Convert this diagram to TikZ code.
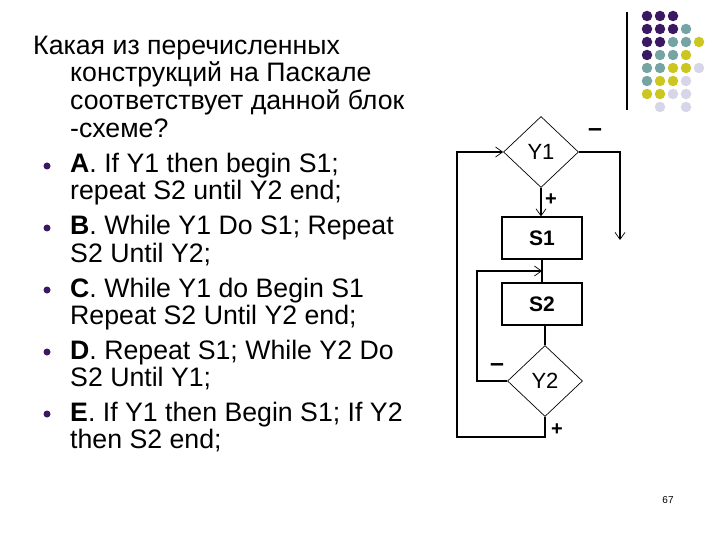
\documentclass[tikz,border=0pt]{standalone}
\usepackage{fontspec}
\setmainfont{Liberation Sans}
\usetikzlibrary{arrows.meta,shapes.geometric,calc}
\definecolor{dpurple}{RGB}{58,24,98}
\definecolor{dteal}{RGB}{118,164,164}
\definecolor{dyellow}{RGB}{204,198,32}
\definecolor{dlight}{RGB}{214,214,232}
\newcommand\qfont{\fontsize{26.7}{28}\selectfont}
\tikzset{
  block/.style={draw, line width=1.2pt, minimum width=80pt, minimum height=42pt, inner sep=0pt, font=\fontsize{21}{21}\selectfont\bfseries},
  cond/.style={draw, diamond, line width=0.7pt, minimum width=75pt, minimum height=71pt, inner sep=0pt, font=\fontsize{22}{22}\selectfont},
  flow/.style={line width=1.4pt},
  arrow/.style={flow, -{Straight Barb[length=7pt,width=10pt,line width=0.7pt]}},
  txtline/.style={anchor=base west, inner sep=0pt, font=\qfont},
  bullet/.style={circle, fill=dpurple, inner sep=0pt, minimum size=7pt},
  sign/.style={font=\fontsize{20}{20}\selectfont\bfseries},
  minus/.style={font=\fontsize{25}{25}\selectfont\bfseries},
  dot/.style={circle, inner sep=0pt, minimum size=10.5pt}
}
\begin{document}
\begin{tikzpicture}[x=1pt, y=-1pt]
\useasboundingbox (0,0) rectangle (720,540);

% question
\node[txtline] (q1) at (33,55) {Какая из перечисленных};
\node[txtline] (q2) at (70,82) {конструкций на Паскале};
\node[txtline] (q3) at (70,110) {соответствует данной блок};
\node[txtline] (q4) at (70,138) {-схеме?};

% answers
\node[bullet] (ba) at (47,166) {};
\node[txtline] (a1) at (70,173) {\textbf{A}. If Y1 then begin S1;};
\node[txtline] (a2) at (70,200) {repeat S2 until Y2 end;};
\node[bullet] (bb) at (47,228) {};
\node[txtline] (b1) at (70,235) {\textbf{B}. While Y1 Do S1; Repeat};
\node[txtline] (b2) at (70,262) {S2 Until Y2;};
\node[bullet] (bc) at (47,290) {};
\node[txtline] (c1) at (70,297) {\textbf{C}. While Y1 do Begin S1};
\node[txtline] (c2) at (70,324) {Repeat S2 Until Y2 end;};
\node[bullet] (bd) at (47,352) {};
\node[txtline] (d1) at (70,359) {\textbf{D}. Repeat S1; While Y2 Do};
\node[txtline] (d2) at (70,386) {S2 Until Y1;};
\node[bullet] (be) at (47,414) {};
\node[txtline] (e1) at (70,421) {\textbf{E}. If Y1 then Begin S1; If Y2};
\node[txtline] (e2) at (70,448) {then S2 end;};

% block scheme
\node[cond] (y1) at (541,152) {Y1};
\node[block] (s1) at (542,238) {S1};
\node[block] (s2) at (542,304) {S2};
\node[cond] (y2) at (545,381) {Y2};
\coordinate (loopin) at ($(s1.south)!0.5!(s2.north)$);
\coordinate (exit) at (620,240);

\draw[arrow] (y1.south) -- (y1.south |- s1.north);
\draw[flow] (s1.south) -- (s2.north);
\draw[flow] (s2.south -| y2.north) -- (y2.north);
\draw[arrow] (y1.east) -| (exit);
\draw[arrow] (y2.west) -- ++(-30,0) |- (loopin);
\draw[arrow] (y2.south) -- ++(0,20) -- ++(-88,0) |- (y1.west);

\node[sign] (pl1) at (551,200) {+};
\node[minus] (mi1) at (595,133) {--};
\node[minus] (mi2) at (497,368) {--};
\node[sign] (pl2) at (557,430) {+};

% slide decoration
\draw[line width=1.3pt] (627,12) -- (627,110);
\foreach \c/\r/\col in {0/0/dpurple,1/0/dpurple,2/0/dpurple,
  0/1/dpurple,1/1/dpurple,2/1/dpurple,3/1/dteal,
  0/2/dpurple,1/2/dpurple,2/2/dteal,3/2/dteal,4/2/dyellow,
  0/3/dpurple,1/3/dteal,2/3/dteal,3/3/dyellow,
  0/4/dteal,1/4/dteal,2/4/dyellow,3/4/dyellow,4/4/dlight,
  0/5/dteal,1/5/dyellow,2/5/dyellow,3/5/dlight,
  0/6/dyellow,1/6/dyellow,2/6/dlight,3/6/dlight,
  1/7/dlight,3/7/dlight}
  \node[dot, fill=\col] (dot\c\r) at ({647+13*\c},{16+13*\r}) {};

\node[font=\fontsize{10}{10}\selectfont] (page) at (668,500) {67};
\end{tikzpicture}
\end{document}
